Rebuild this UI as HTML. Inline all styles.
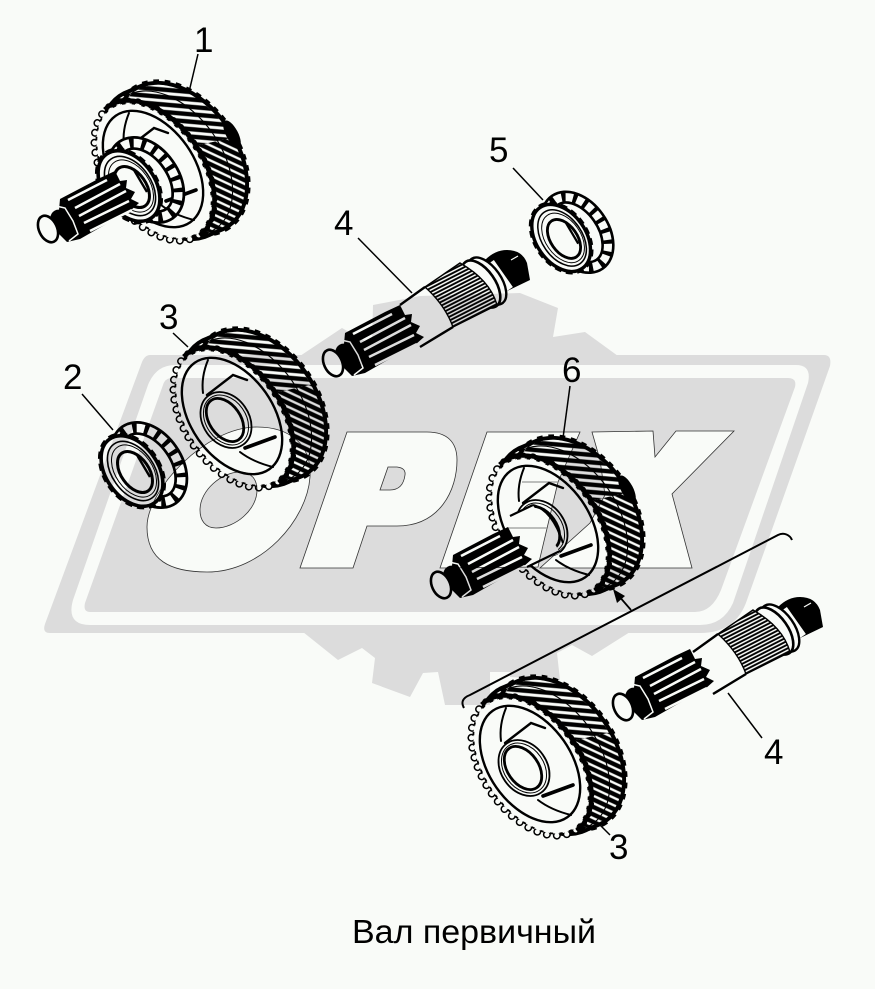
<!DOCTYPE html>
<html><head><meta charset="utf-8"><title>Вал первичный</title>
<style>html,body{margin:0;padding:0;background:#f9fbf8}svg{display:block}
text{font-family:"Liberation Sans","DejaVu Sans",sans-serif;fill:#000}</style></head>
<body>
<svg xmlns="http://www.w3.org/2000/svg" width="875" height="989" viewBox="0 0 875 989">
<defs>
<pattern id="st" patternUnits="userSpaceOnUse" width="7" height="6.8" patternTransform="rotate(-30)"><rect width="7" height="6.8" fill="#000"/><rect y="2.2" width="7" height="2.4" fill="#fff"/></pattern>
<pattern id="st2" patternUnits="userSpaceOnUse" width="7" height="7.4" patternTransform="rotate(-50)"><rect width="7" height="7.4" fill="#000"/><rect y="2.2" width="7" height="3" fill="#fff"/></pattern>
<pattern id="fs" patternUnits="userSpaceOnUse" width="7" height="3.4" patternTransform="rotate(-27)"><rect width="7" height="3.4" fill="#000"/><rect y="1" width="7" height="1.5" fill="#fff"/></pattern>
<clipPath id="upper"><polygon points="-110,-120 140,-120 140,-45 -110,10"/></clipPath>

<g id="gear">
  <g fill="#000">
    <ellipse rx="85" ry="58" transform="translate(8 -4) rotate(55)"/>
    <ellipse rx="85" ry="58" transform="translate(15 -7) rotate(55)"/>
    <ellipse rx="85" ry="58" transform="translate(22 -10) rotate(55)"/>
  </g>
  <g fill="url(#st)">
    <ellipse rx="81" ry="54" transform="translate(8 -4) rotate(55)"/>
    <ellipse rx="81" ry="54" transform="translate(15 -7) rotate(55)"/>
    <ellipse rx="81" ry="54" transform="translate(22 -10) rotate(55)"/>
  </g>
  <g fill="url(#st2)" clip-path="url(#upper)">
    <ellipse rx="81" ry="54" transform="translate(8 -4) rotate(55)"/>
    <ellipse rx="81" ry="54" transform="translate(15 -7) rotate(55)"/>
    <ellipse rx="81" ry="54" transform="translate(22 -10) rotate(55)"/>
  </g>
  <ellipse rx="84" ry="57" transform="translate(22 -10) rotate(55)" fill="none" stroke="#000" stroke-width="5" pathLength="400" stroke-dasharray="5 5"/>
  <ellipse rx="80" ry="52" transform="translate(11 -5) rotate(55)" fill="none" stroke="#000" stroke-width="1.1"/>
  <!-- face -->
  <g transform="translate(-5 3) rotate(55)">
    <ellipse rx="78" ry="48" fill="none" stroke="#000" stroke-width="8" stroke-linecap="round" pathLength="400" stroke-dasharray="0 10"/>
    <ellipse rx="78" ry="48" fill="none" stroke="#fff" stroke-width="5" stroke-linecap="round" pathLength="400" stroke-dasharray="0 10"/>
    <ellipse rx="76" ry="46" fill="#fff"/>
    <ellipse rx="76" ry="46" fill="none" stroke="#000" stroke-width="1.8" pathLength="400" stroke-dasharray="3.5 6.5" stroke-dashoffset="-3.25"/>
    <ellipse rx="79" ry="49" fill="none" stroke="#000" stroke-width="4.5" pathLength="400" stroke-dasharray="205 195" stroke-dashoffset="-195"/>
  </g>
  <ellipse rx="65" ry="41" transform="translate(-6 1) rotate(55)" fill="none" stroke="#000" stroke-width="2.4"/>
  <g fill="none" stroke="#000" stroke-linecap="round">
    <path d="M-30,-55 Q-37,-38 -35,-22" stroke-width="2"/>
    <path d="M-31,-20 L-5,-40 L9,-35" stroke-width="2.4"/>
    <path d="M7,33 L37,22" stroke-width="3.6"/>
    <path d="M2,37 Q15,47 35,52" stroke-width="2"/>
  </g>
</g>

<g id="hub">
  <ellipse rx="30" ry="23" transform="translate(-12 5) rotate(55)" fill="#fff" stroke="#000" stroke-width="1.8"/>
  <ellipse rx="27" ry="20" transform="translate(-12 5) rotate(55)" fill="#fff" stroke="#000" stroke-width="1"/>
  <ellipse rx="24" ry="15.5" transform="translate(-13 5) rotate(55)" fill="#fff" stroke="#000" stroke-width="2.8"/>
</g>

<g id="gear3">
  <use href="#gear"/>
  <use href="#hub"/>
</g>

<g id="bearing">
  <ellipse rx="41" ry="27" transform="translate(14 -5) rotate(55)" fill="none" stroke="#000" stroke-width="14"/>
  <ellipse rx="41" ry="27" transform="translate(14 -5) rotate(55)" fill="none" stroke="#fff" stroke-width="8.5" pathLength="180" stroke-dasharray="6.5 3.5"/>
  <ellipse rx="39" ry="26" transform="translate(-3 1) rotate(55)" fill="#fff" stroke="#000" stroke-width="3.6"/>
  <ellipse rx="41" ry="28" transform="translate(-3 1) rotate(55)" fill="none" stroke="#000" stroke-width="2.4" pathLength="180" stroke-dasharray="6 4"/>
  <ellipse rx="33" ry="21" transform="translate(-2 1) rotate(55)" fill="none" stroke="#000" stroke-width="1.6"/>
  <ellipse rx="29" ry="18.5" transform="translate(-1 1) rotate(55)" fill="none" stroke="#000" stroke-width="1"/>
  <ellipse rx="23" ry="14" transform="translate(0 2) rotate(55)" fill="#fff" stroke="#000" stroke-width="3"/>
  <path d="M2,-15 L15,7" stroke="#000" stroke-width="2.4"/>
</g>

<g id="spline">
  <polygon points="345,333 385,312 400,305 405,315 412,314 411,322 420,326 416,333 424,337 415,345 400,353 365,373 352,376 342,366" fill="#000"/>
  <g stroke="#fff" stroke-width="2.6" fill="none">
    <path d="M353,334 L392,314"/>
    <path d="M360,342 L405,318"/>
    <path d="M364,350 L411,325"/>
    <path d="M369,357 L414,335"/>
    <path d="M375,365 L417,344"/>
  </g>
  <ellipse rx="13" ry="10" transform="translate(346 356) rotate(60)" fill="#000"/>
  <path d="M341,340 L350,342 L358,355 L363,368 L354,375" fill="none" stroke="#fff" stroke-width="1.5"/>
  <ellipse rx="14" ry="9" transform="translate(333 363) rotate(65)" fill="#fff" stroke="#000" stroke-width="2.6"/>
</g>

<g id="rest">
  <path d="M485,260 Q495,250 507,250 Q522,250 527,263 L530,280 L503,293 Z" fill="#000"/>
  <path d="M511,260 L518,256" stroke="#fff" stroke-width="1.2"/>
  <path d="M491,262 L510,289" stroke="#fff" stroke-width="7"/>
  <ellipse rx="27" ry="14" transform="translate(487 281) rotate(55)" fill="#fff" stroke="#000" stroke-width="2.4"/>
  <ellipse rx="27" ry="14" transform="translate(481 284) rotate(55)" fill="#fff" stroke="#000" stroke-width="2.6"/>
  <polygon points="400,305 425,287 452,327 420,347" fill="#fff"/>
  <path d="M400,305 L425,287 M420,347 L453,327" stroke="#000" stroke-width="2.4"/>
  <path d="M425,287 L460,263 Q490,280 497,305 L453,327 Q445,305 425,287 Z" fill="url(#fs)" stroke="#000" stroke-width="1.4"/>
</g>
</defs>

<rect width="875" height="989" fill="#f9fbf8"/>

<!-- watermark -->
<polygon fill="#dcdcdc" points="300,356 342,328 372,345 373,305 420,296 520,293 558,308 553,337 585,332 618,356"/>
<polygon fill="#dcdcdc" points="303,632 338,660 362,648 375,658 372,683 410,697 423,673 438,672 445,705 490,705 490,672 510,672 510,677 560,680 557,653 572,645 592,656 630,632"/>
<path fill="#dcdcdc" d="M150,355 L824,355 Q832,355 830,366 L747,600 Q736,633 700,633 L50,633 Q42,633 45,624 L142,362 Q145,355 150,355 Z"/>
<path fill="#f9fbf8" d="M175,365 L796,365 Q812,365 808,383 L733,603 Q723,625 700,625 L90,625 Q66,625 73,600 L148,385 Q156,365 175,365 Z"/>
<path fill="#dcdcdc" d="M172,378 L788,378 Q797,378 795,387 L721,590 Q712,612 695,612 L90,612 Q83,612 85,603 L163,385 Q165,378 172,378 Z"/>
<g fill="#f9fbf8" stroke="#333" stroke-width="0.8">
  <path fill-rule="evenodd" d="M257,427 C290,427 312,445 310,477 C307,520 262,572 207,572 C170,572 147,560 147,527 C147,490 205,427 257,427 Z M200,510 C200,490 222,472 240,472 C252,472 257,480 257,490 C257,510 235,528 216,528 C205,528 200,520 200,510 Z"/>
  <path fill-rule="evenodd" d="M347,432 L427,432 C447,432 457,442 457,460 C457,490 440,526 397,526 L367,526 L353,568 L300,568 Z M388,467 L397,467 Q406,468 405,475 Q403,490 390,490 L380,490 Z"/>
  <polygon points="487,432 580,432 558,482 540,558 538,567 440,568"/>
  <polygon points="592,432 653,431 655,457 676,431 734,431 672,494 692,568 540,568 590,523 605,495 600,460"/>
</g>
<path d="M522,482 L558,482 M508,528 L547,528" stroke="#999" stroke-width="1.2"/>

<!-- drawing -->
<g style="mix-blend-mode:multiply">
  <!-- gear 1 -->
  <use href="#gear" transform="translate(159 168)"/>
  <ellipse rx="6" ry="15" transform="translate(232 134) rotate(-28)" fill="#000"/>
  <use href="#bearing" transform="translate(132 185)"/>
  <use href="#spline" transform="translate(-285 -134)"/>

  <!-- shaft 4 upper -->
  <use href="#rest"/>
  <use href="#spline"/>

  <!-- bearing 5 -->
  <use href="#bearing" transform="translate(564 237) scale(.95)"/>

  <!-- gear 3 upper -->
  <use href="#gear3" transform="translate(238 415)"/>

  <!-- bearing 2 -->
  <use href="#bearing" transform="translate(135 470)"/>

  <!-- gear 6 -->
  <use href="#gear" transform="translate(554 523)"/>
  <ellipse rx="6" ry="15" transform="translate(627 489) rotate(-28)" fill="#000"/>
  <use href="#hub" transform="translate(554 523)"/>
  <polygon points="510,516 533,505 560,553 527,567" fill="#fff"/>
  <path d="M510,516 L533,505 M527,567 L560,551" stroke="#000" stroke-width="2.2" fill="none"/>
  <path d="M533,505 Q552,510 563,543" stroke="#000" stroke-width="2" fill="none"/>
  <use href="#spline" transform="translate(108 222)"/>

  <!-- lower shaft 4 -->
  <use href="#rest" transform="translate(293 347)"/>
  <use href="#spline" transform="translate(290 344)"/>

  <!-- lower gear 3 -->
  <use href="#gear3" transform="translate(536 763)"/>

  <!-- leaders -->
  <g stroke="#000" stroke-width="1.5" fill="none">
    <path d="M198,54 L189,92"/>
    <path d="M513,168 L543,200"/>
    <path d="M358,238 L412,293"/>
    <path d="M173,333 L188,347"/>
    <path d="M82,394 L113,430"/>
    <path d="M570,386 L563,438"/>
    <path d="M728,693 L762,738"/>
    <path d="M598,823 L610,835"/>
  </g>
  <path d="M464,708 C461,703 462,698 470,695 L778,535 C784,532 790,535 792,540" fill="none" stroke="#000" stroke-width="2"/>
  <path d="M631,610 L618,595" stroke="#000" stroke-width="1.8"/>
  <polygon points="613,589 625,596 617,603" fill="#000"/>
</g>

<!-- labels -->
<g font-size="35">
  <text x="194" y="52">1</text>
  <text x="489" y="162">5</text>
  <text x="334" y="235">4</text>
  <text x="159" y="329">3</text>
  <text x="63" y="389">2</text>
  <text x="562" y="382">6</text>
  <text x="764" y="764">4</text>
  <text x="609" y="859">3</text>
</g>
<text x="352" y="943" font-size="33" textLength="244" lengthAdjust="spacingAndGlyphs">Вал первичный</text>
</svg>
</body></html>
